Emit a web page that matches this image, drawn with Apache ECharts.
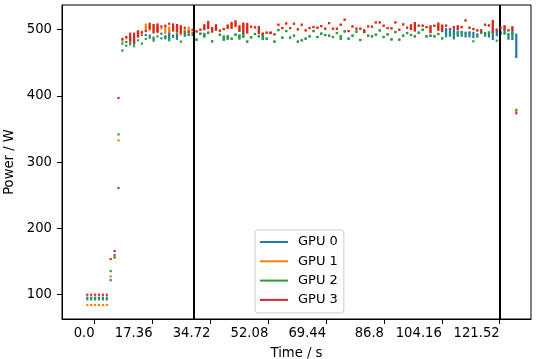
<!DOCTYPE html>
<html>
<head>
<meta charset="utf-8">
<script src="https://cdn.jsdelivr.net/npm/echarts@6/dist/echarts.min.js"></script>
<style>html,body{margin:0;padding:0;background:#fff;}#c{width:536px;height:359px;}</style>
</head>
<body>
<div id="c"></div>
<script>
// Sampling grid (seconds)
const SAMPLE_START = -2.22;
const SAMPLE_STEP = 1.17;

const seriesNames = ['GPU 0', 'GPU 1', 'GPU 2', 'GPU 3'];
const xTickValues = [0, 17.36, 34.72, 52.08, 69.44, 86.8, 104.16, 121.52];
const xTickLabels = ['0.0', '17.36', '34.72', '52.08', '69.44', '86.8', '104.16', '121.52'];
const yTickValues = [100, 200, 300, 400, 500];
const eventTimes = [29.8, 121.55];

// Each entry: a single reading, or [low, high] when several readings share a sample.
const gpu0 = [95.5,95.5,95.5,95.5,95.5,95.5,122,160,261,468.5,481.5,481,[479,483],[490,497.5],492,492,491,[486,488],[497,505],494,[487,490],[486,497],491,[488,497],494,[491,497],493,492,
  485,494,[490,493.5],495.5,482.5,500,492.5,[485,489.5],[486.7,490],486.5,492.5,[487,491],[489.5,493.5],482,488.5,493.5,490,[486,493.5],486.5,495,482,499.5,488,498,488,491,482,484,486.5,490,498,489,494,492,491,489,495,[486.5,490],497.5,486.5,491,497,484.5,496.5,491,490,492.5,
  499,489,493,485.5,496.5,485,491,495,492,490,495.5,500,490,491,490,493.5,487,
  [492.5,501],[491,497.5],[487,501],[491,497],[491,496.5],[490,494],[490,495],[489,495],[490,493],[497,499.5],[492.5,495],[490,496],[486,499.5],[492,497.5],[494,496],[495,501],[486.5,491.5],[486,497.5],[459,492.5]];

const gpu1 = [84.5,84.5,84.5,84.5,84.5,84.5,127.6,157.8,333,[482.5,485],487,[483,488],487,[490,497],[493,497],[500,507.5],[500,506],[497,507],[496,506],502,[495,505],[497,503],[498,505],[496,504],[493,505],500,[495,503],499,
  497.4,500,[501,506.5],[502.5,511.6],[497.4,502.5],[501,506.5],498.5,501,[503,506],[503,510],[506,512.5],[498.5,505],[496.5,509],[496,508.6],504.5,503.5,[495,504],494,495.5,495.5,493,507.5,502.5,509.5,502.5,509,500.5,507.5,499,502.5,504,503,505.5,501.5,510,501.5,501.5,507.5,515,498,505,501.5,501.5,[497,499],505,504.5,511,
  511,506,502.5,502,511,500,508,503,[501,506.5],[499,510],506,506,504,[496.5,505],506,[500,509],[498,506],506,501,504,[501,505],504,514,503,501,499,497.5,507.5,506.5,[497,513],500,503,[501,505],499,[500,503.5],377];

const gpu2 = [93,93,93,93,93,93,135.7,155.8,342,479,476,478,475,484,479,486,488,483.5,490,487,489,484,489,486,482,497,492,495,
  485,494,[490,493.5],495.5,482.5,500,492.5,[485,489.5],[486.7,490],486.5,492.5,[487,491],[489.5,493.5],482,488.5,493.5,490,[486,493.5],486.5,495,482,499.5,488,498,488,491,482,484,486.5,490,498,489,494,492,491,489,495,[486.5,490],497.5,486.5,491,497,484.5,496.5,491,490,492.5,
  499,489,493,485.5,496.5,485,491,495,492,490,495.5,500,490,491,490,493.5,487,490,494,491,495,496,495.5,496,482.5,490,495,491,494.5,495,483.5,495,494,493.5,[492.5,495],379];

const gpu3 = [100,100,100,100,100,100,153.8,166,397,486,489,[484,494],[480,494],[490,497],496,498,[502.5,509],[496,507],[498,508],505,506,509,[500,508],[498,507],[496,505],503,497,500,
  497.4,500,[501,506.5],[502.5,511.6],[497.4,502.5],[501,506.5],498.5,501,[503,506],[503,510],[506,512.5],[498.5,505],[496.5,509],[496,508.6],504.5,503.5,[495,504],494,495.5,495.5,493,507.5,502.5,509.5,502.5,509,500.5,507.5,499,502.5,504,503,505.5,501.5,510,501.5,501.5,507.5,515,498,505,501.5,501.5,[497,499],505,504.5,511,
  511,506,502.5,502,511,500,508,503,[501,506.5],[499,510],506,506,504,[496.5,505],506,[500,509],[498,506],506,501,504,[501,505],504,514,503,501,499,497.5,507.5,506.5,[497,513],500,503,[501,505],499,[500,503.5],374];

const colors = ['#1f77b4', '#ff7f0e', '#2ca02c', '#d62728'];
const FONT = 'DejaVu Sans';

function toRecords(arr) {
  const out = [];
  arr.forEach(function (v, k) {
    if (v === null || v === undefined) return;
    const t = SAMPLE_START + k * SAMPLE_STEP;
    if (Array.isArray(v)) out.push([t, v[0], v[1]]);
    else out.push([t, v, v]);
  });
  return out;
}

function makeRender(color) {
  return function (params, api) {
    const t = api.value(0), lo = api.value(1), hi = api.value(2);
    const pLo = api.coord([t, lo]);
    const pHi = api.coord([t, hi]);
    const w = 2.2;
    const top = pHi[1] - w / 2;
    const bottom = pLo[1] + w / 2;
    return {
      type: 'rect',
      shape: { x: pLo[0] - w / 2, y: top, width: w, height: bottom - top },
      style: { fill: color }
    };
  };
}

const all = [gpu0, gpu1, gpu2, gpu3];
const series = all.map(function (arr, i) {
  return {
    name: seriesNames[i],
    type: 'custom',
    renderItem: makeRender(colors[i]),
    itemStyle: { color: colors[i] },
    encode: { x: 0, y: [1, 2] },
    data: toRecords(arr),
    z: 2 + i,
    silent: true,
    animation: false
  };
});
series.push({
  name: 'events',
  type: 'line',
  data: [],
  silent: true,
  animation: false,
  markLine: {
    silent: true,
    symbol: ['none', 'none'],
    label: { show: false },
    lineStyle: { color: '#000', width: 2, type: 'solid' },
    emphasis: { disabled: true },
    data: eventTimes.map(function (t) { return { xAxis: t }; })
  },
  z: 10
});

const chart = echarts.init(document.getElementById('c'), null, { renderer: 'canvas' });
chart.setOption({
  animation: false,
  backgroundColor: '#fff',
  color: colors,
  textStyle: { fontFamily: FONT },
  grid: { left: 62, top: 5, right: 5, bottom: 40, show: true, borderColor: '#000', borderWidth: 1, backgroundColor: 'transparent', outerBoundsMode: 'none', containLabel: false },
  legend: {
    data: seriesNames.map(function (n, i) { return { name: n, icon: 'rect', itemStyle: { color: colors[i] } }; }),
    orient: 'vertical',
    left: 255,
    top: 230,
    itemWidth: 28,
    itemHeight: 2,
    itemGap: 5.3,
    padding: [5, 6, 6, 5],
    borderColor: '#cccccc',
    borderWidth: 1,
    borderRadius: 3,
    backgroundColor: 'rgba(255,255,255,0.8)',
    selectedMode: false,
    textStyle: { fontFamily: FONT, fontSize: 13, color: '#000', lineHeight: 14, padding: [0, 0, 0, 5] }
  },
  xAxis: {
    type: 'value',
    min: -9.81,
    max: 130.9,
    name: 'Time / s',
    nameLocation: 'middle',
    nameGap: 28,
    nameTextStyle: { fontFamily: FONT, fontSize: 13.2, color: '#000' },
    axisLine: { show: true, onZero: false, lineStyle: { color: '#000', width: 1 } },
    axisTick: { show: true, inside: false, length: 5, lineStyle: { color: '#000', width: 1 }, customValues: xTickValues },
    axisLabel: {
      show: true, margin: 8, align: 'right', color: '#000', fontFamily: FONT, fontSize: 13.2,
      customValues: xTickValues,
      formatter: function (v) {
        for (let i = 0; i < xTickValues.length; i++) { if (Math.abs(xTickValues[i] - v) < 1e-6) return xTickLabels[i]; }
        return '';
      }
    },
    splitLine: { show: false }
  },
  yAxis: {
    type: 'value',
    min: 63.4,
    max: 537.3,
    name: 'Power / W',
    nameLocation: 'middle',
    nameGap: 38,
    nameRotate: 90,
    nameTextStyle: { fontFamily: FONT, fontSize: 13.2, color: '#000' },
    axisLine: { show: true, onZero: false, lineStyle: { color: '#000', width: 1 } },
    axisTick: { show: true, inside: false, length: 5, lineStyle: { color: '#000', width: 1 }, customValues: yTickValues },
    axisLabel: { show: true, margin: 10, color: '#000', fontFamily: FONT, fontSize: 13.2, customValues: yTickValues },
    splitLine: { show: false }
  },
  series: series
});
</script>
</body>
</html>
